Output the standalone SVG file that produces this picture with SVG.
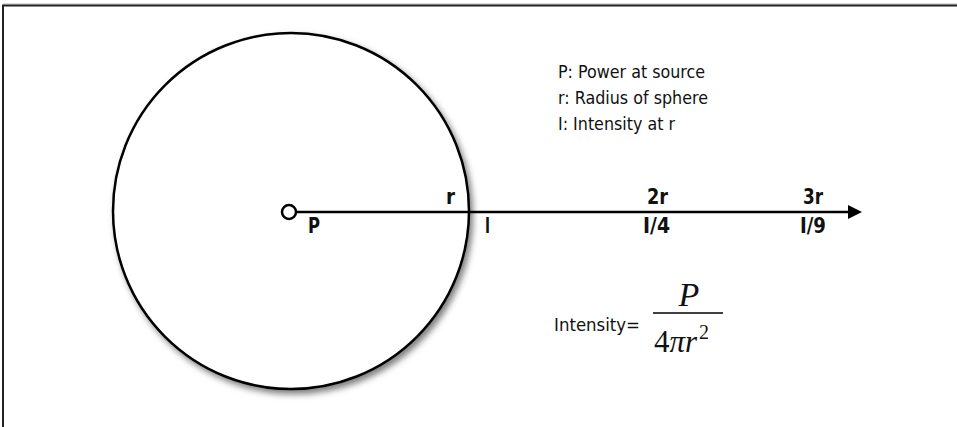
<svg xmlns="http://www.w3.org/2000/svg" width="957" height="427" viewBox="0 0 957 427">
<style>
.lbl{font-family:"DejaVu Sans Condensed","Liberation Sans",sans-serif;font-weight:bold;font-size:21px;fill:#111}
.leg{font-family:"DejaVu Sans Condensed","Liberation Sans",sans-serif;font-size:18px;fill:#111}
.math{font-family:"Liberation Serif","Times New Roman",serif;font-style:italic;fill:#111}
</style>
<defs>
<filter id="sh" x="-10%" y="-10%" width="125%" height="125%">
<feDropShadow dx="3" dy="4" stdDeviation="3" flood-color="#000" flood-opacity="0.5"/>
</filter>
<marker id="arr" markerWidth="16" markerHeight="14" refX="1" refY="7" orient="auto" markerUnits="userSpaceOnUse">
<path d="M1,0 L15,7 L1,14 Z" fill="#000"/>
</marker>
</defs>
<rect width="957" height="427" fill="#fff"/>
<g id="frame">
<line x1="3" y1="4" x2="957" y2="4" stroke="#bbb" stroke-width="1"/>
<path d="M3,427 V5.5 H957" fill="none" stroke="#222" stroke-width="2"/>
</g>
<g id="sphere">
<circle cx="291" cy="211" r="178" fill="#fff" stroke="#000" stroke-width="2.5" filter="url(#sh)"/>
</g>
<g id="connectors">
<line x1="296" y1="212" x2="848" y2="212" stroke="#000" stroke-width="2.5" marker-end="url(#arr)"/>
</g>
<g id="source">
<circle cx="289" cy="212" r="7" fill="#fff" stroke="#000" stroke-width="2.5"/>
<text class="lbl" x="308" y="233" textLength="12" lengthAdjust="spacingAndGlyphs">P</text>
</g>
<g id="r1">
<text class="lbl" x="446" y="204" textLength="9" lengthAdjust="spacingAndGlyphs">r</text>
<text class="lbl" x="485" y="233" textLength="5" lengthAdjust="spacingAndGlyphs">I</text>
</g>
<g id="r2">
<text class="lbl" x="647" y="204" textLength="21" lengthAdjust="spacingAndGlyphs">2r</text>
<text class="lbl" x="643" y="233" textLength="27" lengthAdjust="spacingAndGlyphs">I/4</text>
</g>
<g id="r3">
<text class="lbl" x="803" y="204" textLength="20" lengthAdjust="spacingAndGlyphs">3r</text>
<text class="lbl" x="800" y="233" textLength="26" lengthAdjust="spacingAndGlyphs">I/9</text>
</g>
<g id="legend">
<text class="leg" x="558" y="78" textLength="147" lengthAdjust="spacingAndGlyphs">P: Power at source</text>
<text class="leg" x="558" y="104" textLength="150" lengthAdjust="spacingAndGlyphs">r: Radius of sphere</text>
<text class="leg" x="558" y="130" textLength="117" lengthAdjust="spacingAndGlyphs">I: Intensity at r</text>
</g>
<g id="formula">
<text class="leg" x="554" y="331" textLength="86" lengthAdjust="spacingAndGlyphs">Intensity=</text>
<text class="math" x="689" y="306" font-size="34" text-anchor="middle">P</text>
<line x1="653" y1="313" x2="723" y2="313" stroke="#000" stroke-width="1.5"/>
<text class="math" x="654" y="352" font-size="31"><tspan font-style="normal">4</tspan>π<tspan>r</tspan><tspan font-size="20" font-style="normal" dx="2" dy="-13">2</tspan></text>
</g>
</svg>
